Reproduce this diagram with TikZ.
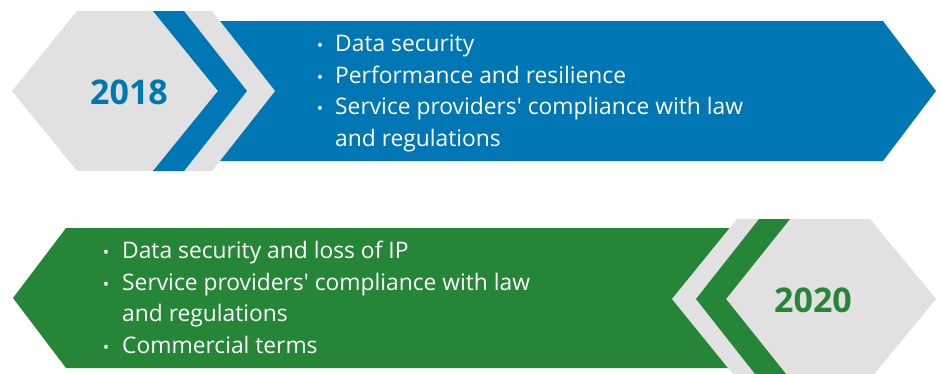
\documentclass[tikz,border=0pt]{standalone}
\usepackage{fontspec}
\setmainfont{Open Sans}[Ligatures=TeXOff]
\definecolor{bblue}{HTML}{0077B5}
\definecolor{ggreen}{HTML}{268637}
\definecolor{lgray}{HTML}{E1E1E1}
\begin{document}
\begin{tikzpicture}[x=1pt,y=-1pt,
  item/.style={anchor=base west,inner sep=0pt,text=white,font=\fontsize{22.8}{27}\selectfont},
  dot/.style={anchor=base,inner sep=0pt,text=white,font=\fontsize{17}{20}\selectfont},
  year/.style={anchor=center,inner sep=0pt,font=\fontsize{34}{40}\selectfont\bfseries}]
\useasboundingbox (0,0) rectangle (940,373);
\clip (0,0) rectangle (940,373);
% top arrow
\fill[bblue] (200,21) -- (883,21) -- (936,91) -- (883,161) -- (200,161) -- cycle;
\fill[lgray] (12,91) -- (77,11) -- (212,11) -- (275,91) -- (212,171) -- (77,171) -- cycle;
\fill[bblue] (153,11) -- (184,11) -- (247,91) -- (184,171) -- (153,171) -- (218,91) -- cycle;
\node[year,text=bblue] (y1) at (129,92) {2018};
\node[dot] (b1) at (320,51) {•};
\node[item] (t1) at (335,51.5) {Data security};
\node[dot] (b2) at (320,83) {•};
\node[item] (t2) at (335,83) {Performance and resilience};
\node[dot] (b3) at (320,114.5) {•};
\node[item] (t3) at (335,114.5) {Service providers' compliance with law};
\node[item] (t4) at (335,146) {and regulations};
% bottom arrow
\fill[ggreen] (13,298) -- (66,228) -- (780,228) -- (780,368) -- (66,368) -- cycle;
\fill[lgray] (672,299) -- (737,219) -- (870,219) -- (936,299) -- (870,379) -- (737,379) -- cycle;
\fill[ggreen] (759,219) -- (790,219) -- (726,299) -- (790,379) -- (759,379) -- (696,299) -- cycle;
\node[year,text=ggreen] (y2) at (813,300) {2020};
\node[dot] (c1) at (106,258) {•};
\node[item] (s1) at (122,258) {Data security and loss of IP};
\node[dot] (c2) at (106,290) {•};
\node[item] (s2) at (122,290) {Service providers' compliance with law};
\node[item] (s3) at (122,321.5) {and regulations};
\node[dot] (c3) at (106,353) {•};
\node[item] (s4) at (122,353) {Commercial terms};
\end{tikzpicture}
\end{document}
